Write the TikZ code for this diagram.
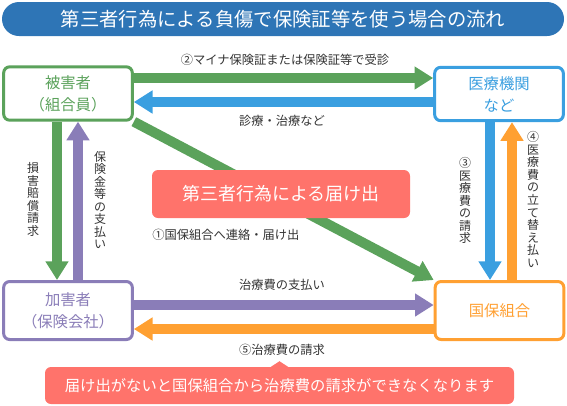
\documentclass[tikz,border=0pt]{standalone}
\usepackage{fontspec}
\setmainfont{Noto Sans CJK JP}
\usepackage{xcolor}
\usepackage{tikz}
\usetikzlibrary{positioning, arrows.meta, backgrounds}

\definecolor{titleblue}{HTML}{2E75B6}
\definecolor{grn}{HTML}{5BA25B}
\definecolor{blu}{HTML}{3A9FE0}
\definecolor{prp}{HTML}{8A7DB8}
\definecolor{org}{HTML}{FFA032}
\definecolor{salmon}{HTML}{FF736B}
\definecolor{txt}{HTML}{333333}

\tikzset{
  party/.style={draw, rectangle, rounded corners=4.5pt, line width=2.25pt, fill=white,
    align=center, minimum width=96.5pt, inner sep=0pt, font=\fontsize{11.5}{16.5}\selectfont},
  flow/.style={line width=7.5pt, -{Triangle[width=16.5pt, length=14pt]}},
  lbl/.style={inner sep=0pt, text=txt, font=\fontsize{9.2}{12}\selectfont},
  vlbl/.style={lbl, align=center, font=\fontsize{9}{9.4}\selectfont},
  banner/.style={fill=salmon, rounded corners=4.5pt, text=white, inner sep=0pt}
}

\begin{document}
\begin{tikzpicture}[x=0.75pt, y=-0.75pt]
  \useasboundingbox (0,0) rectangle (567,405);

  % title
  \node (title) [fill=titleblue, rounded corners=12.75pt, minimum width=421.5pt, minimum height=25.5pt,
    inner sep=0pt, text=white, font=\fontsize{14.5}{16}\selectfont] at (283,19)
    {第三者行為による負傷で保険証等を使う場合の流れ};

  % the four parties
  \node (victim) [party, draw=grn, text=grn, minimum height=40pt] at (68,93.5) {被害者\\（組合員）};
  \node (clinic) [party, draw=blu, text=blu, minimum height=40pt] at (499,94) {医療機関\\など};
  \node (offender) [party, draw=prp, text=prp, minimum height=43.5pt] at (68,310.5) {加害者\\（保険会社）};
  \node (union) [party, draw=org, text=org, minimum height=43.5pt] at (499.5,310.5) {国保組合};

  % flows
  \begin{scope}[on background layer]
    \draw [flow, grn] (victim.east |- 0,78) -- (clinic.west |- 0,78);
    \draw [flow, blu] (clinic.west |- 0,102) -- (victim.east |- 0,102);
    \draw [flow, grn] (victim.south -| 57,0) -- (offender.north -| 57,0);
    \draw [flow, prp] (offender.north -| 78,0) -- (victim.south -| 78,0);
    \draw [flow, blu] (clinic.south -| 490,0) -- (union.north -| 490,0);
    \draw [flow, org] (union.north -| 512,0) -- (clinic.south -| 512,0);
    \draw [flow, prp] (offender.east |- 0,305) -- (union.west |- 0,305);
    \draw [flow, org] (union.west |- 0,329) -- (offender.east |- 0,329);
    \draw [flow, grn] (victim.south east) -- (union.north west);
  \end{scope}

  % labels
  \node (visit) [lbl] at (285,60) {②マイナ保険証または保険証等で受診};
  \node (treat) [lbl] at (282,121) {診療・治療など};
  \node (report) [lbl, anchor=west] at (152,235) {①国保組合へ連絡・届け出};
  \node (paid) [lbl] at (282,285) {治療費の支払い};
  \node (claim) [lbl] at (282,350) {⑤治療費の請求};
  \node (damages) [vlbl] at (33,199.5) {損\\害\\賠\\償\\請\\求};
  \node (insure) [vlbl] at (100,200) {保\\険\\金\\等\\の\\支\\払\\い};
  \node (bill) [vlbl] at (465,200.5) {③\\医\\療\\費\\の\\請\\求};
  \node (advance) [vlbl] at (533,199.5) {④\\医\\療\\費\\の\\立\\て\\替\\え\\払\\い};

  % notices
  \node (notice) [banner, minimum width=193.5pt, minimum height=36pt,
    font=\fontsize{13.5}{16}\selectfont] at (281,194) {第三者行為による届け出};
  \node (warn) [banner, minimum width=351.75pt, minimum height=27.75pt,
    font=\fontsize{11.5}{14}\selectfont] at (279.5,385.5)
    {届け出がないと国保組合から治療費の請求ができなくなります};
  \fill [salmon] (warn.north) ++(-10,1) -- ++(10,-6.5) -- ++(10,6.5) -- cycle;
\end{tikzpicture}
\end{document}
